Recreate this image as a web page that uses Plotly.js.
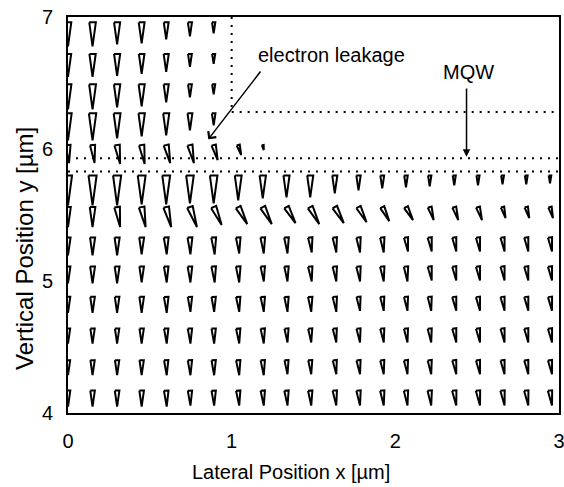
<!DOCTYPE html>
<html><head><meta charset="utf-8">
<script src="https://cdn.plot.ly/plotly-3.0.1.min.js"></script>
<style>html,body{margin:0;padding:0;background:#fff}#chart{width:564px;height:487px}</style>
</head><body><div id="chart"></div>
<script>
// grid of arrow tails (µm)
const xCols = [0, 0.15, 0.3, 0.45, 0.6, 0.745, 0.89, 1.04, 1.19, 1.335, 1.48, 1.63, 1.775, 1.92, 2.065, 2.21, 2.36, 2.505, 2.655, 2.8, 2.945];
const yRows = [6.96, 6.72, 6.49, 6.27, 6.03, 5.80, 5.56, 5.33, 5.11, 4.88, 4.64, 4.40, 4.17];
const N = null;
// downward current component per row (a.u.)
const jyRows = [
  [24,24,22,21,17,14,11,N,N,N,N,N,N,N,N,N,N,N,N,N,N],
  [23,23,22,20,18,13,10,N,N,N,N,N,N,N,N,N,N,N,N,N,N],
  [25,25,23,22,18,13,10,N,N,N,N,N,N,N,N,N,N,N,N,N,N],
  [27,27,25,23,22,17,12,N,N,N,N,N,N,N,N,N,N,N,N,N,N],
  [18,18,19,19,18,18,15,10,5,N,N,N,N,N,N,N,N,N,N,N,N],
  [30,30,30,29,29,28,28,25,23,22,22,18,15,13,12,11,10,10,9,9,8],
  [20,20,20,20,20,20,18,17,17,16,17,16,15,14,13,13,13,13,11,11,11],
  [18,18,18,17,17,17,17,16,16,16,15,15,15,15,14,14,14,14,14,14,14],
  [17,17,17,16,16,16,16,16,15,15,15,15,15,15,15,14,14,14,14,14,14],
  [16,16,16,16,16,15,15,15,15,15,15,15,14,14,14,14,14,14,14,14,14],
  [15,15,15,15,15,15,15,15,15,14,14,14,14,14,14,14,14,14,14,14,14],
  [15,15,15,15,15,15,15,15,15,14,14,14,14,14,14,14,14,14,14,14,14],
  [16,16,16,16,16,15,15,15,15,15,15,15,15,15,15,15,15,15,15,15,15]
];
// lateral current component per row (a.u.)
const jxRows = [
  [0,0,0,0,0,0,0,N,N,N,N,N,N,N,N,N,N,N,N,N,N],
  [0,0,0,0,0,0,0,N,N,N,N,N,N,N,N,N,N,N,N,N,N],
  [0,0,0,0,0,0,0,N,N,N,N,N,N,N,N,N,N,N,N,N,N],
  [0,0,0,0,0,0,0,N,N,N,N,N,N,N,N,N,N,N,N,N,N],
  [1,2,3,3,4,4,4,3,1,N,N,N,N,N,N,N,N,N,N,N,N],
  [0,0,0,0,0,0,0,0,0,0,0,0,0,0,0,0,0,0,0,0,0],
  [0,0,3,4,5,7,8,9,9,9,9,9,8,7,7,4,4,4,3,3,3],
  [0,0,0,0,0.5,0.5,1,1,1,1,1.5,1.5,1.5,1.5,2,2,2,2,2,2,2],
  [0,0,0,0,0.5,0.5,1,1,1,1,1.5,1.5,1.5,1.5,1.5,2,2,2,2,2,2],
  [0,0,0,0,0.5,0.5,0.5,1,1,1,1,1.5,1.5,1.5,1.5,1.5,2,2,2,2,2],
  [0,0,0,0,0.5,0.5,0.5,1,1,1,1,1.5,1.5,1.5,1.5,1.5,2,2,2,2,2],
  [0,0,0,0,0.5,0.5,0.5,1,1,1,1,1.5,1.5,1.5,1.5,1.5,2,2,2,2,2],
  [0,0,0,0,0.5,0.5,0.5,1,1,1,1,1.5,1.5,1.5,1.5,1.5,2,2,2,2,2]
];
// layer boundaries (µm)
const ridgeEdgeX = [1.0, 1.0];
const ridgeEdgeY = [7.0, 6.28];
const ridgeBaseX = [1.0, 3.0];
const ridgeBaseY = [6.28, 6.28];
const mqwX = [0, 3.0];
const mqwTopY = [5.93, 5.93];
const mqwBotY = [5.83, 5.83];

const W = 564, H = 487;
const M = {l: 68, r: 5, t: 17, b: 74};
const xRange = [0, 3], yRange = [4, 7];
const plotW = W - M.l - M.r, plotH = H - M.t - M.b;
const sx = plotW / (xRange[1] - xRange[0]);
const sy = plotH / (yRange[1] - yRange[0]);

// triangle arrows built from the vector field
const arrX = [], arrY = [];
yRows.forEach((y0, r) => {
  xCols.forEach((x0, c) => {
    const vy = jyRows[r][c], vx = jxRows[r][c];
    if (vy === null) return;
    const len = Math.hypot(vx, vy);
    const ux = vx / len, uy = vy / len;
    const px = -uy, py = ux;
    const half = 0.3 + 0.125 * len;
    const pts = [[px * half, py * half], [vx, vy], [-px * half, -py * half], [px * half, py * half]];
    pts.forEach(p => { arrX.push(x0 + p[0] / sx); arrY.push(y0 - p[1] / sy); });
    arrX.push(null); arrY.push(null);
  });
});

const dotLine = {color: '#000', width: 2, dash: '2px,6px'};
const traces = [
  {x: arrX, y: arrY, mode: 'lines', fill: 'toself', fillcolor: '#fff',
   line: {color: '#000', width: 2}, hoverinfo: 'skip', showlegend: false},
  {x: ridgeEdgeX, y: ridgeEdgeY, mode: 'lines', line: dotLine, hoverinfo: 'skip', showlegend: false},
  {x: ridgeBaseX, y: ridgeBaseY, mode: 'lines', line: dotLine, hoverinfo: 'skip', showlegend: false},
  {x: mqwX, y: mqwTopY, mode: 'lines', line: dotLine, hoverinfo: 'skip', showlegend: false},
  {x: mqwX, y: mqwBotY, mode: 'lines', line: dotLine, hoverinfo: 'skip', showlegend: false}
];

// tick marks on all four sides as unclipped line markers (major 1 µm, minor 0.1 µm)
function addTicks(major) {
  const len = major ? 9 : 5, w = major ? 2 : 1.5;
  const xs = [], ys = [];
  for (let i = 0; i <= 30; i++) {
    if ((i % 10 === 0) !== major) continue;
    xs.push(xRange[0] + i * 0.1);
    ys.push(yRange[0] + i * 0.1);
  }
  const offX = (len / 2 + 1) / sx, offY = (len / 2 + 1) / sy;
  const mk = sym => ({symbol: sym, size: len, color: '#000', line: {color: '#000', width: w}});
  const common = {mode: 'markers', cliponaxis: false, hoverinfo: 'skip', showlegend: false};
  traces.push(Object.assign({x: xs, y: xs.map(() => yRange[0] - offY), marker: mk('line-ns')}, common));
  traces.push(Object.assign({x: xs, y: xs.map(() => yRange[1] + offY), marker: mk('line-ns')}, common));
  traces.push(Object.assign({x: ys.map(() => xRange[0] - offX), y: ys, marker: mk('line-ew')}, common));
  traces.push(Object.assign({x: ys.map(() => xRange[1] + offX), y: ys, marker: mk('line-ew')}, common));
}
addTicks(true);
addTicks(false);

const font = 'Liberation Sans, Arial, Helvetica, sans-serif';
const axisBase = {
  showgrid: false, zeroline: false, showline: true, linecolor: '#000', linewidth: 2,
  mirror: true, ticks: 'outside', ticklen: 9, tickwidth: 2, tickcolor: 'rgba(0,0,0,0)',
  tickmode: 'linear', tick0: 0, dtick: 1, ticklabeloverflow: 'allow', autorange: false,
  tickfont: {family: font, size: 20, color: '#000'}
};

const layout = {
  width: W, height: H, margin: M,
  paper_bgcolor: '#fff', plot_bgcolor: '#fff',
  font: {family: font, color: '#000'},
  xaxis: Object.assign({}, axisBase, {range: xRange}),
  yaxis: Object.assign({}, axisBase, {range: yRange}),
  annotations: [
    {text: 'electron leakage', x: 1.607, y: 6.712, xref: 'x', yref: 'y', showarrow: false,
     font: {family: font, size: 20, color: '#000'}},
    {text: 'MQW', x: 2.45, y: 6.583, xref: 'x', yref: 'y', showarrow: false,
     font: {family: font, size: 20, color: '#000'}},
    {text: '', x: 0.857, y: 6.073, xref: 'x', yref: 'y', ax: 1.183, ay: 6.598, axref: 'x', ayref: 'y',
     showarrow: true, arrowhead: 4, arrowsize: 1.3, arrowwidth: 1.5, arrowcolor: '#000', standoff: 0},
    {text: '', x: 2.435, y: 5.942, xref: 'x', yref: 'y', ax: 2.435, ay: 6.47, axref: 'x', ayref: 'y',
     showarrow: true, arrowhead: 2, arrowsize: 1, arrowwidth: 1.5, arrowcolor: '#000', standoff: 0},
    {text: 'Lateral Position x [µm]', xref: 'paper', yref: 'paper', x: 0.454, y: -0.149,
     xanchor: 'center', yanchor: 'middle', showarrow: false, font: {family: font, size: 20, color: '#000'}},
    {text: 'Vertical Position y [µm]', xref: 'paper', yref: 'paper', x: -0.0876, y: 0.4167,
     xanchor: 'center', yanchor: 'middle', textangle: -90, showarrow: false, font: {family: font, size: 24, color: '#000'}}
  ]
};

Plotly.newPlot('chart', traces, layout, {displayModeBar: false, staticPlot: true});
</script>
</body></html>
